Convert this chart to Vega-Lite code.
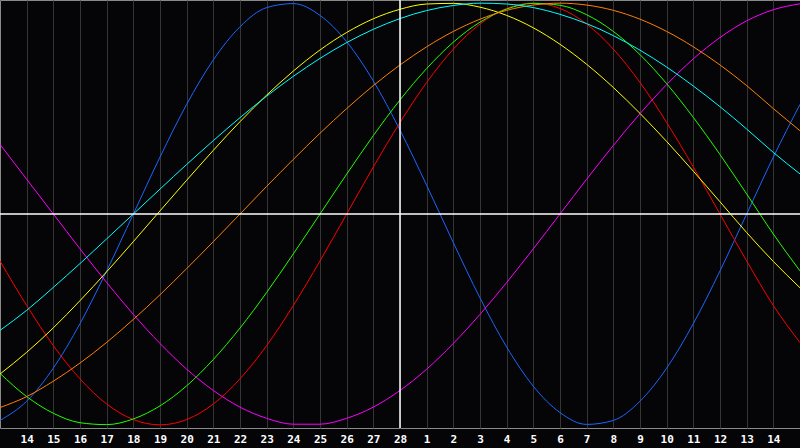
{
  "$schema": "https://vega.github.io/schema/vega-lite/v6.json",
  "width": 800,
  "height": 428,
  "autosize": {"type": "none"},
  "padding": {"left": 0, "top": 0, "right": 0, "bottom": 20},
  "background": "#050508",
  "config": {
    "view": {"stroke": "#8a8a8a", "fill": "#050508"}
  },
  "datasets": {
    "cycles": [
      {"cycle": "Physical", "day": 0, "value": -0.979}, {"cycle": "Physical", "day": 1, "value": -0.888}, {"cycle": "Physical", "day": 2, "value": -0.731}, {"cycle": "Physical", "day": 3, "value": -0.52}, {"cycle": "Physical", "day": 4, "value": -0.27}, {"cycle": "Physical", "day": 5, "value": 0}, {"cycle": "Physical", "day": 6, "value": 0.27}, {"cycle": "Physical", "day": 7, "value": 0.52}, {"cycle": "Physical", "day": 8, "value": 0.731}, {"cycle": "Physical", "day": 9, "value": 0.888}, {"cycle": "Physical", "day": 10, "value": 0.979}, {"cycle": "Physical", "day": 11, "value": 0.998}, {"cycle": "Physical", "day": 12, "value": 0.942}, {"cycle": "Physical", "day": 13, "value": 0.817}, {"cycle": "Physical", "day": 14, "value": 0.631}, {"cycle": "Physical", "day": 15, "value": 0.398}, {"cycle": "Physical", "day": 16, "value": 0.136}, {"cycle": "Physical", "day": 17, "value": -0.136}, {"cycle": "Physical", "day": 18, "value": -0.398}, {"cycle": "Physical", "day": 19, "value": -0.631}, {"cycle": "Physical", "day": 20, "value": -0.817}, {"cycle": "Physical", "day": 21, "value": -0.942}, {"cycle": "Physical", "day": 22, "value": -0.998}, {"cycle": "Physical", "day": 23, "value": -0.979}, {"cycle": "Physical", "day": 24, "value": -0.888}, {"cycle": "Physical", "day": 25, "value": -0.731}, {"cycle": "Physical", "day": 26, "value": -0.52}, {"cycle": "Physical", "day": 27, "value": -0.27}, {"cycle": "Physical", "day": 28, "value": 0}, {"cycle": "Physical", "day": 29, "value": 0.27}, {"cycle": "Physical", "day": 30, "value": 0.52},
      {"cycle": "Emotional", "day": 0, "value": -0.223}, {"cycle": "Emotional", "day": 1, "value": -0.434}, {"cycle": "Emotional", "day": 2, "value": -0.624}, {"cycle": "Emotional", "day": 3, "value": -0.782}, {"cycle": "Emotional", "day": 4, "value": -0.901}, {"cycle": "Emotional", "day": 5, "value": -0.975}, {"cycle": "Emotional", "day": 6, "value": -1}, {"cycle": "Emotional", "day": 7, "value": -0.975}, {"cycle": "Emotional", "day": 8, "value": -0.901}, {"cycle": "Emotional", "day": 9, "value": -0.782}, {"cycle": "Emotional", "day": 10, "value": -0.624}, {"cycle": "Emotional", "day": 11, "value": -0.434}, {"cycle": "Emotional", "day": 12, "value": -0.223}, {"cycle": "Emotional", "day": 13, "value": 0}, {"cycle": "Emotional", "day": 14, "value": 0.223}, {"cycle": "Emotional", "day": 15, "value": 0.434}, {"cycle": "Emotional", "day": 16, "value": 0.624}, {"cycle": "Emotional", "day": 17, "value": 0.782}, {"cycle": "Emotional", "day": 18, "value": 0.901}, {"cycle": "Emotional", "day": 19, "value": 0.975}, {"cycle": "Emotional", "day": 20, "value": 1}, {"cycle": "Emotional", "day": 21, "value": 0.975}, {"cycle": "Emotional", "day": 22, "value": 0.901}, {"cycle": "Emotional", "day": 23, "value": 0.782}, {"cycle": "Emotional", "day": 24, "value": 0.624}, {"cycle": "Emotional", "day": 25, "value": 0.434}, {"cycle": "Emotional", "day": 26, "value": 0.223}, {"cycle": "Emotional", "day": 27, "value": 0}, {"cycle": "Emotional", "day": 28, "value": -0.223}, {"cycle": "Emotional", "day": 29, "value": -0.434}, {"cycle": "Emotional", "day": 30, "value": -0.61},
      {"cycle": "Intellectual", "day": 0, "value": -0.756}, {"cycle": "Intellectual", "day": 1, "value": -0.866}, {"cycle": "Intellectual", "day": 2, "value": -0.945}, {"cycle": "Intellectual", "day": 3, "value": -0.99}, {"cycle": "Intellectual", "day": 4, "value": -0.999}, {"cycle": "Intellectual", "day": 5, "value": -0.972}, {"cycle": "Intellectual", "day": 6, "value": -0.91}, {"cycle": "Intellectual", "day": 7, "value": -0.815}, {"cycle": "Intellectual", "day": 8, "value": -0.69}, {"cycle": "Intellectual", "day": 9, "value": -0.541}, {"cycle": "Intellectual", "day": 10, "value": -0.372}, {"cycle": "Intellectual", "day": 11, "value": -0.189}, {"cycle": "Intellectual", "day": 12, "value": 0}, {"cycle": "Intellectual", "day": 13, "value": 0.189}, {"cycle": "Intellectual", "day": 14, "value": 0.372}, {"cycle": "Intellectual", "day": 15, "value": 0.541}, {"cycle": "Intellectual", "day": 16, "value": 0.69}, {"cycle": "Intellectual", "day": 17, "value": 0.815}, {"cycle": "Intellectual", "day": 18, "value": 0.91}, {"cycle": "Intellectual", "day": 19, "value": 0.972}, {"cycle": "Intellectual", "day": 20, "value": 0.999}, {"cycle": "Intellectual", "day": 21, "value": 0.99}, {"cycle": "Intellectual", "day": 22, "value": 0.945}, {"cycle": "Intellectual", "day": 23, "value": 0.866}, {"cycle": "Intellectual", "day": 24, "value": 0.756}, {"cycle": "Intellectual", "day": 25, "value": 0.618}, {"cycle": "Intellectual", "day": 26, "value": 0.458}, {"cycle": "Intellectual", "day": 27, "value": 0.282}, {"cycle": "Intellectual", "day": 28, "value": 0.095}, {"cycle": "Intellectual", "day": 29, "value": -0.095}, {"cycle": "Intellectual", "day": 30, "value": -0.27},
      {"cycle": "Intuitive", "day": 0, "value": 0.33}, {"cycle": "Intuitive", "day": 1, "value": 0.165}, {"cycle": "Intuitive", "day": 2, "value": 0}, {"cycle": "Intuitive", "day": 3, "value": -0.165}, {"cycle": "Intuitive", "day": 4, "value": -0.325}, {"cycle": "Intuitive", "day": 5, "value": -0.476}, {"cycle": "Intuitive", "day": 6, "value": -0.614}, {"cycle": "Intuitive", "day": 7, "value": -0.736}, {"cycle": "Intuitive", "day": 8, "value": -0.837}, {"cycle": "Intuitive", "day": 9, "value": -0.916}, {"cycle": "Intuitive", "day": 10, "value": -0.969}, {"cycle": "Intuitive", "day": 11, "value": -0.997}, {"cycle": "Intuitive", "day": 12, "value": -0.997}, {"cycle": "Intuitive", "day": 13, "value": -0.969}, {"cycle": "Intuitive", "day": 14, "value": -0.916}, {"cycle": "Intuitive", "day": 15, "value": -0.837}, {"cycle": "Intuitive", "day": 16, "value": -0.736}, {"cycle": "Intuitive", "day": 17, "value": -0.614}, {"cycle": "Intuitive", "day": 18, "value": -0.476}, {"cycle": "Intuitive", "day": 19, "value": -0.325}, {"cycle": "Intuitive", "day": 20, "value": -0.165}, {"cycle": "Intuitive", "day": 21, "value": 0}, {"cycle": "Intuitive", "day": 22, "value": 0.165}, {"cycle": "Intuitive", "day": 23, "value": 0.325}, {"cycle": "Intuitive", "day": 24, "value": 0.476}, {"cycle": "Intuitive", "day": 25, "value": 0.614}, {"cycle": "Intuitive", "day": 26, "value": 0.736}, {"cycle": "Intuitive", "day": 27, "value": 0.837}, {"cycle": "Intuitive", "day": 28, "value": 0.916}, {"cycle": "Intuitive", "day": 29, "value": 0.969}, {"cycle": "Intuitive", "day": 30, "value": 0.997},
      {"cycle": "Aesthetic", "day": 0, "value": -0.759}, {"cycle": "Aesthetic", "day": 1, "value": -0.656}, {"cycle": "Aesthetic", "day": 2, "value": -0.54}, {"cycle": "Aesthetic", "day": 3, "value": -0.411}, {"cycle": "Aesthetic", "day": 4, "value": -0.274}, {"cycle": "Aesthetic", "day": 5, "value": -0.131}, {"cycle": "Aesthetic", "day": 6, "value": 0.015}, {"cycle": "Aesthetic", "day": 7, "value": 0.16}, {"cycle": "Aesthetic", "day": 8, "value": 0.302}, {"cycle": "Aesthetic", "day": 9, "value": 0.438}, {"cycle": "Aesthetic", "day": 10, "value": 0.564}, {"cycle": "Aesthetic", "day": 11, "value": 0.678}, {"cycle": "Aesthetic", "day": 12, "value": 0.778}, {"cycle": "Aesthetic", "day": 13, "value": 0.861}, {"cycle": "Aesthetic", "day": 14, "value": 0.926}, {"cycle": "Aesthetic", "day": 15, "value": 0.971}, {"cycle": "Aesthetic", "day": 16, "value": 0.996}, {"cycle": "Aesthetic", "day": 17, "value": 0.999}, {"cycle": "Aesthetic", "day": 18, "value": 0.981}, {"cycle": "Aesthetic", "day": 19, "value": 0.942}, {"cycle": "Aesthetic", "day": 20, "value": 0.883}, {"cycle": "Aesthetic", "day": 21, "value": 0.805}, {"cycle": "Aesthetic", "day": 22, "value": 0.71}, {"cycle": "Aesthetic", "day": 23, "value": 0.6}, {"cycle": "Aesthetic", "day": 24, "value": 0.477}, {"cycle": "Aesthetic", "day": 25, "value": 0.344}, {"cycle": "Aesthetic", "day": 26, "value": 0.203}, {"cycle": "Aesthetic", "day": 27, "value": 0.058}, {"cycle": "Aesthetic", "day": 28, "value": -0.088}, {"cycle": "Aesthetic", "day": 29, "value": -0.225}, {"cycle": "Aesthetic", "day": 30, "value": -0.35},
      {"cycle": "Awareness", "day": 0, "value": -0.918}, {"cycle": "Awareness", "day": 1, "value": -0.866}, {"cycle": "Awareness", "day": 2, "value": -0.793}, {"cycle": "Awareness", "day": 3, "value": -0.707}, {"cycle": "Awareness", "day": 4, "value": -0.609}, {"cycle": "Awareness", "day": 5, "value": -0.5}, {"cycle": "Awareness", "day": 6, "value": -0.383}, {"cycle": "Awareness", "day": 7, "value": -0.259}, {"cycle": "Awareness", "day": 8, "value": -0.131}, {"cycle": "Awareness", "day": 9, "value": 0}, {"cycle": "Awareness", "day": 10, "value": 0.131}, {"cycle": "Awareness", "day": 11, "value": 0.259}, {"cycle": "Awareness", "day": 12, "value": 0.383}, {"cycle": "Awareness", "day": 13, "value": 0.5}, {"cycle": "Awareness", "day": 14, "value": 0.609}, {"cycle": "Awareness", "day": 15, "value": 0.707}, {"cycle": "Awareness", "day": 16, "value": 0.793}, {"cycle": "Awareness", "day": 17, "value": 0.866}, {"cycle": "Awareness", "day": 18, "value": 0.924}, {"cycle": "Awareness", "day": 19, "value": 0.966}, {"cycle": "Awareness", "day": 20, "value": 0.991}, {"cycle": "Awareness", "day": 21, "value": 1}, {"cycle": "Awareness", "day": 22, "value": 0.991}, {"cycle": "Awareness", "day": 23, "value": 0.966}, {"cycle": "Awareness", "day": 24, "value": 0.924}, {"cycle": "Awareness", "day": 25, "value": 0.866}, {"cycle": "Awareness", "day": 26, "value": 0.793}, {"cycle": "Awareness", "day": 27, "value": 0.707}, {"cycle": "Awareness", "day": 28, "value": 0.609}, {"cycle": "Awareness", "day": 29, "value": 0.5}, {"cycle": "Awareness", "day": 30, "value": 0.395},
      {"cycle": "Spiritual", "day": 0, "value": -0.552}, {"cycle": "Spiritual", "day": 1, "value": -0.457}, {"cycle": "Spiritual", "day": 2, "value": -0.348}, {"cycle": "Spiritual", "day": 3, "value": -0.235}, {"cycle": "Spiritual", "day": 4, "value": -0.118}, {"cycle": "Spiritual", "day": 5, "value": 0}, {"cycle": "Spiritual", "day": 6, "value": 0.118}, {"cycle": "Spiritual", "day": 7, "value": 0.235}, {"cycle": "Spiritual", "day": 8, "value": 0.348}, {"cycle": "Spiritual", "day": 9, "value": 0.457}, {"cycle": "Spiritual", "day": 10, "value": 0.559}, {"cycle": "Spiritual", "day": 11, "value": 0.653}, {"cycle": "Spiritual", "day": 12, "value": 0.738}, {"cycle": "Spiritual", "day": 13, "value": 0.813}, {"cycle": "Spiritual", "day": 14, "value": 0.876}, {"cycle": "Spiritual", "day": 15, "value": 0.927}, {"cycle": "Spiritual", "day": 16, "value": 0.965}, {"cycle": "Spiritual", "day": 17, "value": 0.989}, {"cycle": "Spiritual", "day": 18, "value": 1}, {"cycle": "Spiritual", "day": 19, "value": 0.996}, {"cycle": "Spiritual", "day": 20, "value": 0.979}, {"cycle": "Spiritual", "day": 21, "value": 0.947}, {"cycle": "Spiritual", "day": 22, "value": 0.903}, {"cycle": "Spiritual", "day": 23, "value": 0.846}, {"cycle": "Spiritual", "day": 24, "value": 0.777}, {"cycle": "Spiritual", "day": 25, "value": 0.697}, {"cycle": "Spiritual", "day": 26, "value": 0.607}, {"cycle": "Spiritual", "day": 27, "value": 0.509}, {"cycle": "Spiritual", "day": 28, "value": 0.403}, {"cycle": "Spiritual", "day": 29, "value": 0.292}, {"cycle": "Spiritual", "day": 30, "value": 0.19}
    ],
    "guides": [
      {"day": 15, "value": 0}
    ]
  },
  "layer": [
    {
      "data": {"name": "cycles"},
      "mark": {"type": "line", "strokeWidth": 1, "interpolate": "monotone", "clip": true},
      "encoding": {
        "x": {
          "field": "day",
          "type": "quantitative",
          "scale": {"domain": [0, 30], "nice": false, "zero": false},
          "axis": {
            "title": null,
            "values": [1, 2, 3, 4, 5, 6, 7, 8, 9, 10, 11, 12, 13, 14, 15, 16, 17, 18, 19, 20, 21, 22, 23, 24, 25, 26, 27, 28, 29],
            "tickCount": 60,
            "labelExpr": "datum.value <= 15 ? datum.value + 13 : datum.value - 15",
            "grid": true,
            "gridColor": "#353535",
            "gridWidth": 1,
            "domain": false,
            "ticks": false,
            "tickSize": 0,
            "labelPadding": 11,
            "labelBaseline": "middle",
            "labelColor": "#ffffff",
            "labelFont": "DejaVu Sans Mono",
            "labelFontWeight": "bold",
            "labelFontSize": 11,
            "labelFlush": false,
            "labelOverlap": false
          }
        },
        "y": {
          "field": "value",
          "type": "quantitative",
          "scale": {"domain": [-1.015, 1.015], "nice": false, "zero": false},
          "axis": null
        },
        "color": {
          "field": "cycle",
          "type": "nominal",
          "scale": {
            "domain": ["Physical", "Emotional", "Intellectual", "Intuitive", "Aesthetic", "Awareness", "Spiritual"],
            "range": ["#1a66ff", "#ff0000", "#22ff00", "#ff00ff", "#ffff00", "#ff8000", "#00ffff"]
          },
          "legend": null
        }
      }
    },
    {
      "data": {"name": "guides"},
      "mark": {"type": "rule", "color": "#ffffff", "strokeWidth": 1.5},
      "encoding": {"x": {"field": "day", "type": "quantitative"}}
    },
    {
      "data": {"name": "guides"},
      "mark": {"type": "rule", "color": "#ffffff", "strokeWidth": 1.5},
      "encoding": {"y": {"field": "value", "type": "quantitative"}}
    }
  ]
}
